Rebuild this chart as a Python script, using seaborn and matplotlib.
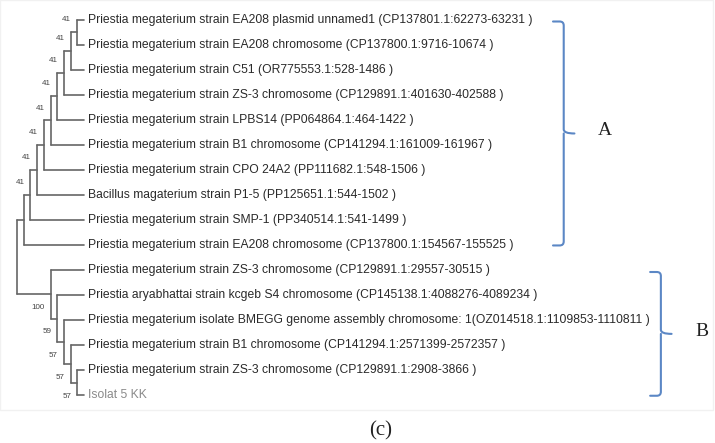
import matplotlib
matplotlib.use('Agg')
import matplotlib.pyplot as plt
import seaborn as sns
import pandas as pd
import numpy as np
from matplotlib.path import Path
from matplotlib.patches import PathPatch, Rectangle

# ============================================================
# Data
# ============================================================
leaf_labels_a = [
    'Priestia megaterium strain EA208 plasmid unnamed1 (CP137801.1:62273-63231 )',
    'Priestia megaterium strain EA208 chromosome (CP137800.1:9716-10674 )',
    'Priestia megaterium strain C51 (OR775553.1:528-1486 )',
    'Priestia megaterium strain ZS-3 chromosome (CP129891.1:401630-402588 )',
    'Priestia megaterium strain LPBS14 (PP064864.1:464-1422 )',
    'Priestia megaterium strain B1 chromosome (CP141294.1:161009-161967 )',
    'Priestia megaterium strain CPO 24A2 (PP111682.1:548-1506 )',
    'Bacillus magaterium strain P1-5 (PP125651.1:544-1502 )',
    'Priestia megaterium strain SMP-1 (PP340514.1:541-1499 )',
    'Priestia megaterium strain EA208 chromosome (CP137800.1:154567-155525 )',
]
leaf_labels_b = [
    'Priestia megaterium strain ZS-3 chromosome (CP129891.1:29557-30515 )',
    'Priestia aryabhattai strain kcgeb S4 chromosome (CP145138.1:4088276-4089234 )',
    'Priestia megaterium isolate BMEGG genome assembly chromosome: 1(OZ014518.1:1109853-1110811 )',
    'Priestia megaterium strain B1 chromosome (CP141294.1:2571399-2572357 )',
    'Priestia megaterium strain ZS-3 chromosome (CP129891.1:2908-3866 )',
    'Isolat 5 KK',
]
# bootstrap values; clade A: innermost node first (clade root unlabeled)
support_a = [41, 41, 41, 41, 41, 41, 41, 41]
# clade B: clade root first, going inwards
support_b = [100, 59, 57, 57, 57]
clade_names = ['A', 'B']

leaf_labels = leaf_labels_a + leaf_labels_b
n_a = len(leaf_labels_a)
n_leaves = len(leaf_labels)

# ============================================================
# Build tree (cladogram, tips aligned)
# ============================================================
TIP = 10


def leaf(i):
    return {'leaf': i}


def clade(children, support=None):
    return {'children': children, 'support': support}


# clade A: every next leaf joins the group above it
node = leaf(0)
for k in range(1, n_a):
    sup = support_a[k - 1] if k - 1 < len(support_a) else None
    node = clade([node, leaf(k)], sup)
clade_a = node

# clade B: every leaf joins the group below it
node = leaf(n_leaves - 1)
for k in range(n_leaves - 2, n_a - 1, -1):
    node = clade([leaf(k), node], support_b[k - n_a])
clade_b = node

root = clade([clade_a, clade_b])

segments = []


def layout(nd):
    if 'leaf' in nd:
        nd['x'], nd['y'], nd['h'] = TIP, nd['leaf'], 0
        return
    for c in nd['children']:
        layout(c)
    nd['h'] = 1 + max(c['h'] for c in nd['children'])
    nd['x'] = TIP - nd['h']
    nd['y'] = np.mean([c['y'] for c in nd['children']])
    ys = [c['y'] for c in nd['children']]
    segments.append([(nd['x'], min(ys)), (nd['x'], max(ys))])
    for c in nd['children']:
        segments.append([(nd['x'], c['y']), (c['x'], c['y'])])


layout(root)


def internal_nodes(nd):
    if 'leaf' in nd:
        return []
    out = [nd]
    for c in nd['children']:
        out += internal_nodes(c)
    return out


rows = []
for sid, seg in enumerate(segments):
    for x, y in seg:
        rows.append({'x': x, 'y': y, 'seg': sid})
seg_df = pd.DataFrame(rows)

# ============================================================
# Plot
# ============================================================
sns.set_theme(style='white')
plt.rcParams['font.family'] = ['Liberation Sans', 'DejaVu Sans']

PX_UNIT = 6.7      # pixels per depth unit
ROW_PX = 25.05     # pixels per leaf row
X0_PX, Y0_PX = 17, 19.5

fig = plt.figure(figsize=(7.15, 4.43), dpi=100)
ax = fig.add_axes([0, 0, 1, 1])
ax.set_xlim(-X0_PX / PX_UNIT, (715 - X0_PX) / PX_UNIT)
ax.set_ylim((443 - Y0_PX) / ROW_PX, -Y0_PX / ROW_PX)

# faint frame of the original screenshot
ax.add_patch(Rectangle((-X0_PX / PX_UNIT, -Y0_PX / ROW_PX), 713 / PX_UNIT, 410 / ROW_PX,
                       fill=False, edgecolor='#f1f1f1', lw=1.0))

sns.lineplot(data=seg_df, x='x', y='y', units='seg', estimator=None, sort=False,
             color='#666666', lw=1.2, ax=ax, legend=False)

# leaf labels
for i, lab in enumerate(leaf_labels):
    col = '#8a8a8a' if lab.startswith('Isolat') else '#2a2a2a'
    ax.text(TIP + 0.6, i, lab, fontsize=8.7, color=col, va='center', ha='left')

# bootstrap values
for nd in internal_nodes(clade_a):
    if nd['support'] is not None:
        ax.text(nd['x'] - 0.9, nd['y'] - 0.49, str(nd['support']), fontsize=5.8,
                color='#444444', ha='right', va='center')
for nd in internal_nodes(clade_b):
    if nd['support'] is not None:
        ax.text(nd['x'] - 0.9, nd['y'] + 0.53, str(nd['support']), fontsize=5.8,
                color='#444444', ha='right', va='center')


def draw_brace(ax, x0, y_top, y_bot, w=1.6, rx=0.6, ry=0.16, color='#5b87c5'):
    x1 = x0 + w
    x2 = x1 + w
    ym = (y_top + y_bot) / 2
    verts = [(x0, y_top), (x1 - rx, y_top), (x1, y_top), (x1, y_top + ry),
             (x1, ym - ry), (x1, ym), (x2, ym), (x1, ym), (x1, ym + ry),
             (x1, y_bot - ry), (x1, y_bot), (x1 - rx, y_bot), (x0, y_bot)]
    codes = [Path.MOVETO, Path.LINETO, Path.CURVE3, Path.CURVE3,
             Path.LINETO, Path.CURVE3, Path.CURVE3, Path.MOVETO, Path.CURVE3,
             Path.LINETO, Path.CURVE3, Path.CURVE3, Path.LINETO]
    ax.add_patch(PathPatch(Path(verts, codes), fill=False, edgecolor=color,
                           lw=1.5, capstyle='round', joinstyle='round'))
    return ym


brace_x = [80.0, 94.5]
brace_rows = [(0, n_a - 1), (n_a, n_leaves - 1)]
for name, bx, (r0, r1) in zip(clade_names, brace_x, brace_rows):
    ym = draw_brace(ax, bx, r0 + 0.08, r1 + 0.02)
    ax.text(bx + 7.8, ym - 0.1, name, fontsize=14, family=['Liberation Serif', 'DejaVu Serif'],
            color='#222222', ha='center', va='center')

ax.axis('off')
fig.text(0.533, 0.027, '(c)', fontsize=15, family=['Liberation Serif', 'DejaVu Serif'],
         color='#222222', ha='center', va='center')

fig.savefig('out.png', dpi=100, facecolor='white')
plt.close(fig)
